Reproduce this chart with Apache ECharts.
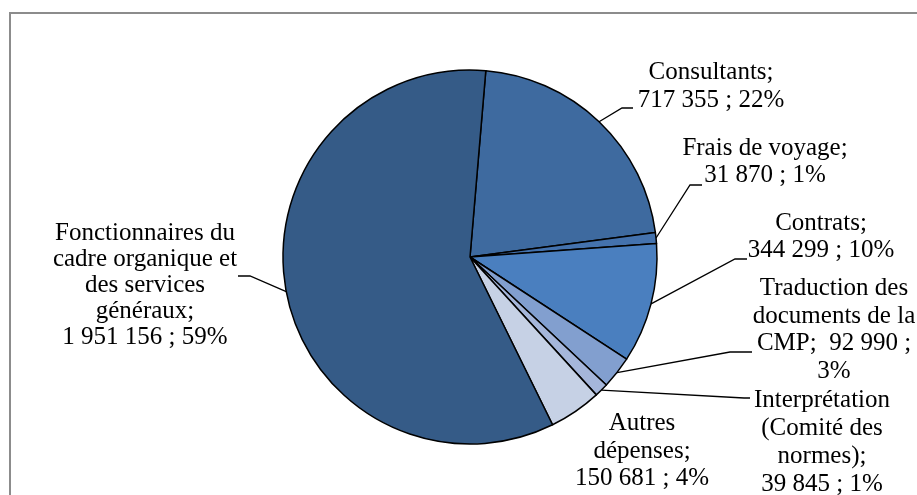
<!DOCTYPE html>
<html>
<head>
<meta charset="utf-8">
<script src="https://cdn.jsdelivr.net/npm/echarts@6/dist/echarts.min.js"></script>
<style>
  html, body { margin: 0; padding: 0; background: #fff; }
  #chart { width: 917px; height: 495px; }
</style>
</head>
<body>
<div id="chart"></div>
<script>
// ---- data ----
const categories = [
  'Consultants',
  'Frais de voyage',
  'Contrats',
  'Traduction des documents de la CMP',
  'Interprétation (Comité des normes)',
  'Autres dépenses',
  'Fonctionnaires du cadre organique et des services généraux'
];
const values = [717355, 31870, 344299, 92990, 39845, 150681, 1951156];
const percentLabels = [22, 1, 10, 3, 1, 4, 59];

// ---- presentation (wrapping, colours, label placement) ----
const wrappedNames = [
  'Consultants',
  'Frais de voyage',
  'Contrats',
  'Traduction des\ndocuments de la\nCMP',
  'Interprétation\n(Comité des\nnormes)',
  'Autres\ndépenses',
  'Fonctionnaires du\ncadre organique et\ndes services\ngénéraux'
];
const labelTemplates = [
  '#N#;\n#V# ; #P#%', '#N#;\n#V# ; #P#%', '#N#;\n#V# ; #P#%', '#N#;  #V# ;\n#P#%',
  '#N#;\n#V# ; #P#%', '#N#;\n#V# ; #P#%', '#N#;\n#V# ; #P#%'
];
const colors = ['#3e6a9f', '#4472ad', '#4a7fbf', '#829fcf', '#a5b6da', '#c6d1e5', '#355b87'];
const lineHeights = [28, 27, 27, 27.5, 28, 27.5, 26];
// [centerX, centerY, elbowX, elbowY, endX]
const labelPlacement = [
  [711, 86, 622, 108, 633],
  [765, 162, 690, 185, 702],
  [821, 237, 735, 259, 747],
  [834, 330, 730, 352, 752],
  [822, 442, 744, 398, 750],
  [642, 451, null, null, null],
  [145, 285, 250, 276, 238]
];

function fmt(v) { return String(v).replace(/\B(?=(\d{3})+(?!\d))/g, ' '); }

const chart = echarts.init(document.getElementById('chart'), null, { renderer: 'canvas' });

const data = categories.map((c, i) => ({
  name: c,
  value: values[i],
  itemStyle: { color: colors[i] },
  label: { lineHeight: lineHeights[i] },
  labelLine: { show: labelPlacement[i][2] != null }
}));

chart.setOption({
  animation: false,
  backgroundColor: '#fff',
  graphic: [{
    type: 'rect',
    shape: { x: 10, y: 13, width: 1000, height: 1000 },
    style: { fill: 'none', stroke: '#8c8c8c', lineWidth: 2 },
    silent: true
  }],
  series: [{
    type: 'pie',
    center: [470, 257],
    radius: 187,
    startAngle: 85.15,
    clockwise: true,
    avoidLabelOverlap: false,
    itemStyle: { borderColor: '#000', borderWidth: 1.5 },
    emphasis: { disabled: true },
    label: {
      show: true,
      position: 'outside',
      color: '#000',
      fontFamily: '"Liberation Serif", "Times New Roman", serif',
      fontSize: 25,
      lineHeight: 27.5,
      align: 'center',
      formatter: function (p) {
        const i = p.dataIndex;
        return labelTemplates[i]
          .split('#N#').join(wrappedNames[i])
          .split('#V#').join(fmt(values[i]))
          .split('#P#').join(String(percentLabels[i]));
      }
    },
    labelLine: {
      show: true,
      smooth: false,
      lineStyle: { color: '#000', width: 1.3 }
    },
    labelLayout: function (params) {
      const i = params.dataIndex;
      const lp = labelPlacement[i];
      const out = { x: lp[0], y: lp[1], align: 'center', verticalAlign: 'middle' };
      if (lp[2] != null && params.labelLinePoints) {
        out.labelLinePoints = [
          params.labelLinePoints[0],
          [lp[2], lp[3]],
          [lp[4], lp[3]]
        ];
      }
      return out;
    },
    data: data
  }]
});
</script>
</body>
</html>
